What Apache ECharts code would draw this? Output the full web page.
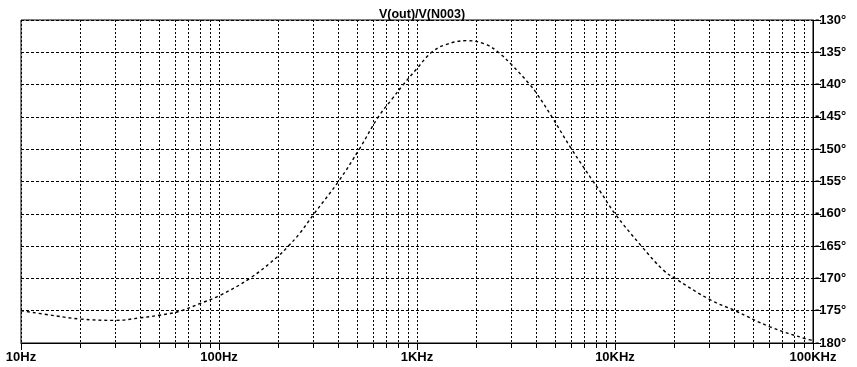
<!DOCTYPE html>
<html>
<head>
<meta charset="utf-8">
<script src="https://cdn.jsdelivr.net/npm/echarts@6/dist/echarts.min.js"></script>
<style>
  html, body { margin: 0; padding: 0; background: #fff; }
  #chart { width: 857px; height: 367px; }
</style>
</head>
<body>
<div id="chart"></div>
<script>
// Phase response V(out)/V(N003), frequency in Hz, phase in degrees
const freqHz = [10, 15, 20, 30, 40, 50, 63, 80, 100, 143, 200, 224, 256, 302, 401, 511, 638, 745, 853,
  1000, 1186, 1400, 1783, 2200, 2576, 3000, 3716, 4030, 4800, 6040, 7760, 8400, 10000, 13600, 17500,
  20100, 30200, 40400, 60700, 93000, 100000];
const phaseDeg = [-175.0, -175.8, -176.3, -176.5, -176.1, -175.7, -175.1, -173.9, -172.7, -170.0, -166.5,
  -165.0, -163.0, -160.0, -155.0, -150.0, -145.0, -142.3, -140.0, -137.5, -135.0, -133.8, -133.2, -133.7,
  -135.0, -136.9, -140.0, -141.4, -145.0, -150.0, -155.0, -156.5, -160.0, -165.0, -168.7, -170.0, -173.3,
  -175.0, -177.5, -179.4, -179.6];

// Decade tick labels and 1..9 per decade grid positions
const decadeTicks = [10, 100, 1000, 10000, 100000];
const decadeNames = ['10Hz', '100Hz', '1KHz', '10KHz', '100KHz'];
const gridFreqs = [];
for (let i = 0; i < decadeTicks.length - 1; i++) {
  for (let k = 1; k <= 9; k++) gridFreqs.push(k * decadeTicks[i]);
}
gridFreqs.push(decadeTicks[decadeTicks.length - 1]);

const FONT = "'Liberation Sans', Arial, sans-serif";

const chart = echarts.init(document.getElementById('chart'), null, { renderer: 'canvas' });
chart.setOption({
  backgroundColor: '#fff',
  animation: false,
  title: {
    text: 'V(out)/V(N003)',
    left: 417,
    top: 3,
    textAlign: 'center',
    textStyle: { fontFamily: FONT, fontWeight: 'bold', fontSize: 12.5, color: '#000' }
  },
  grid: {
    left: 21, right: 44, top: 20, bottom: 24,
    show: true, borderColor: '#000', borderWidth: 1, containLabel: false
  },
  xAxis: [{
    type: 'log', logBase: 10, min: 10, max: 100000,
    axisLine: { show: true, lineStyle: { color: '#000', width: 1 } },
    axisTick: { show: true, customValues: gridFreqs, length: 5, lineStyle: { color: '#000' } },
    axisLabel: {
      customValues: decadeTicks,
      formatter: v => decadeNames[decadeTicks.indexOf(Math.round(v))] || '',
      fontFamily: FONT, fontWeight: 'bold', fontSize: 13, color: '#000', margin: 8
    },
    splitLine: { show: true, lineStyle: { color: '#000', type: [2, 2], width: 1 } }
  }, {
    type: 'log', logBase: 10, min: 10, max: 100000, position: 'bottom',
    axisLine: { show: false },
    axisTick: { show: true, customValues: decadeTicks, length: 7, lineStyle: { color: '#000' } },
    axisLabel: { show: false },
    splitLine: { show: false }
  }],
  yAxis: {
    type: 'value', position: 'right', min: -180, max: -130, interval: 5,
    axisLine: { show: true, lineStyle: { color: '#000', width: 1 } },
    axisTick: { show: true, length: 8, lineStyle: { color: '#000' } },
    axisLabel: {
      formatter: v => v + '°',
      fontFamily: FONT, fontWeight: 'bold', fontSize: 13, color: '#000', margin: 2
    },
    splitLine: { show: true, lineStyle: { color: '#000', type: [3, 2], width: 1 } }
  },
  series: [{
    type: 'line',
    xAxisIndex: 0,
    data: freqHz.map((f, i) => [f, phaseDeg[i]]),
    smooth: 0.4,
    symbol: 'none',
    lineStyle: { color: '#000', width: 1.4, type: [3, 3] }
  }]
});
</script>
</body>
</html>
